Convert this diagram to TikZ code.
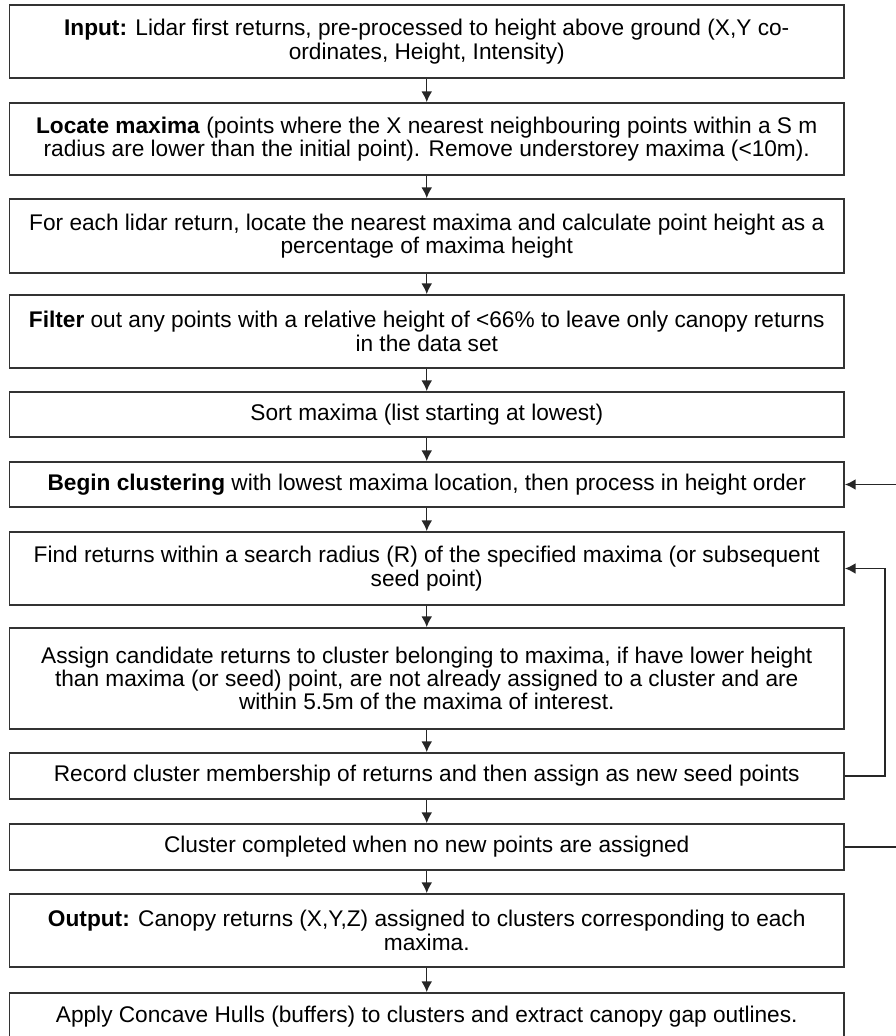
\documentclass[tikz,border=0pt]{standalone}
\usepackage{fontspec}
\setmainfont{Liberation Sans}
\usetikzlibrary{arrows.meta}
\begin{document}
\begin{tikzpicture}[x=0.75pt,y=-0.75pt,
  box/.style={draw=black!80, line width=1.3pt, minimum width=625.9pt, inner sep=0pt, align=center,
    font=\fontsize{17}{17.5}\selectfont},
  flow/.style={draw=black!85, line width=1.1pt, -{Latex[length=8pt,width=8pt]}},
  back/.style={draw=black!85, line width=1.1pt},
  backarrow/.style={back, -{Latex[length=8pt,width=8pt]}}
]
\useasboundingbox (0,0) rectangle (896,1036);
\clip (0,0) rectangle (896,1036);
\node[box, minimum height=54.75pt] (n1) at (426.75,41.5) {\textbf{Input:} Lidar first returns, pre-processed to height above ground (X,Y co-\\ordinates, Height, Intensity)};
\node[box, minimum height=54pt] (n2) at (426.75,139) {\textbf{Locate maxima} (points where the X nearest neighbouring points within a S m\\radius are lower than the initial point). Remove understorey maxima (<10m).};
\node[box, minimum height=55.5pt] (n3) at (426.75,236) {For each lidar return, locate the nearest maxima and calculate point height as a\\percentage of maxima height};
\node[box, minimum height=54.75pt] (n4) at (426.75,331.5) {\textbf{Filter} out any points with a relative height of <66\% to leave only canopy returns\\in the data set};
\node[box, minimum height=33.75pt] (n5) at (426.75,414.5) {Sort maxima (list starting at lowest)};
\node[box, minimum height=33.75pt] (n6) at (426.75,484.5) {\textbf{Begin clustering} with lowest maxima location, then process in height order};
\node[box, minimum height=54.75pt] (n7) at (426.75,568.5) {Find returns within a search radius (R) of the specified maxima (or subsequent\\seed point)};
\node[box, minimum height=75.75pt] (n8) at (426.75,678.5) {Assign candidate returns to cluster belonging to maxima, if have lower height\\than maxima (or seed) point, are not already assigned to a cluster and are\\within 5.5m of the maxima of interest.};
\node[box, minimum height=34.5pt] (n9) at (426.75,776) {Record cluster membership of returns and then assign as new seed points};
\node[box, minimum height=34.5pt] (n10) at (426.75,847) {Cluster completed when no new points are assigned};
\node[box, minimum height=54.75pt] (n11) at (426.75,930.5) {\textbf{Output:} Canopy returns (X,Y,Z) assigned to clusters corresponding to each\\maxima.};
\node[box, minimum height=35.25pt] (n12) at (426.75,1016.5) {Apply Concave Hulls (buffers) to clusters and extract canopy gap outlines.};
\foreach \a/\b in {n1/n2,n2/n3,n3/n4,n4/n5,n5/n6,n6/n7,n7/n8,n8/n9,n9/n10,n10/n11,n11/n12}
  \draw[flow] (\a.south) -- (\b.north);
\coordinate (inner) at (885,776);
\draw[backarrow] (n9.east) -- (inner) |- (n7.east);
\coordinate (outer) at (905,847);
\draw[backarrow] (n10.east) -- (outer) |- (n6.east);
\end{tikzpicture}
\end{document}
